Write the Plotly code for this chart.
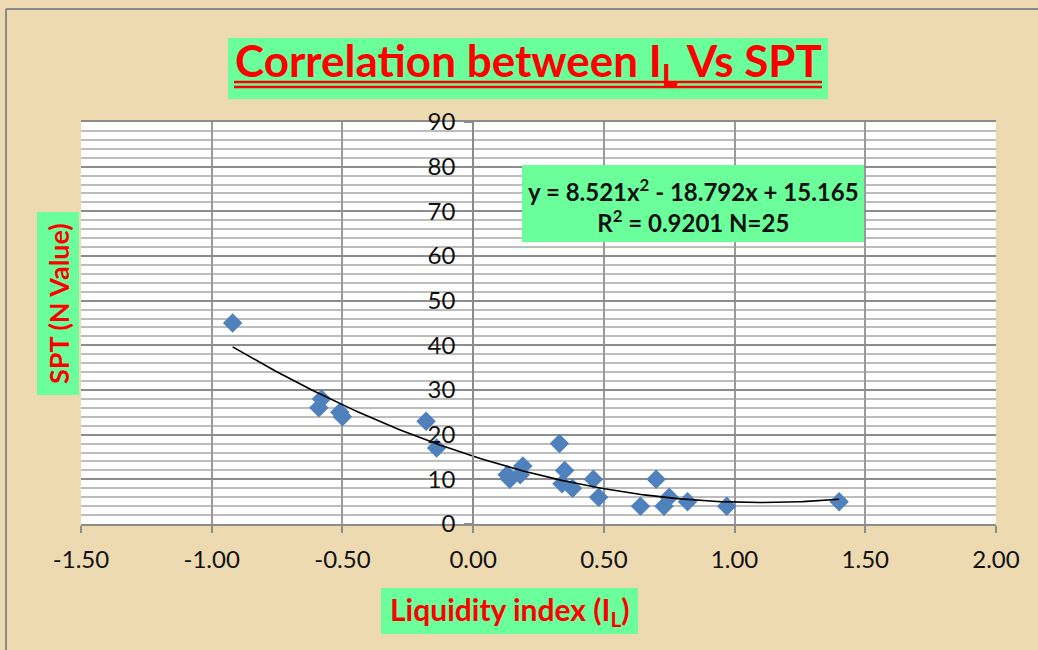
import plotly.graph_objects as go
import numpy as np

# ---- data ----
liquidity_index = [-0.92, -0.58, -0.59, -0.51, -0.50, -0.18, -0.14,
                   0.13, 0.14, 0.18, 0.19, 0.33, 0.35, 0.34, 0.38,
                   0.46, 0.48, 0.64, 0.70, 0.73, 0.75, 0.82, 0.97, 1.40]
spt_n = [45, 28, 26, 25, 24, 23, 17,
         11, 10, 11, 13, 18, 12, 9, 8,
         10, 6, 4, 10, 4, 6, 5, 4, 5]

# trendline coefficients (from the chart's equation)
coef_a, coef_b, coef_c = 8.521, -18.792, 15.165

x_ticks = [-1.5, -1.0, -0.5, 0.0, 0.5, 1.0, 1.5, 2.0]
x_tick_labels = ["-1.50", "-1.00", "-0.50", "0.00", "0.50", "1.00", "1.50", "2.00"]
y_ticks = [0, 10, 20, 30, 40, 50, 60, 70, 80, 90]

title_text = "Correlation between I<sub>L</sub> Vs SPT"
eq_text = "y = 8.521x<sup>2</sup> - 18.792x + 15.165<br>R<sup>2</sup> = 0.9201 N=25"
x_title = "Liquidity index (I<sub>L</sub>)"
y_title = "SPT (N Value)"

# ---- figure ----
W, H = 1038, 650
ml, mr, mt, mb = 81, 42, 122, 126

tx = np.linspace(min(liquidity_index), max(liquidity_index), 200)
ty = coef_a * tx**2 + coef_b * tx + coef_c

fig = go.Figure()
fig.add_trace(go.Scatter(x=liquidity_index, y=spt_n, mode="markers",
                         marker=dict(symbol="diamond", size=15, color="#4F81BD",
                                     line=dict(width=0)),
                         showlegend=False, hoverinfo="x+y"))
fig.add_trace(go.Scatter(x=tx, y=ty, mode="lines",
                         line=dict(color="black", width=1.6),
                         showlegend=False, hoverinfo="skip"))

xmin, xmax = -1.5, 2.0
y_pos = (0 - xmin) / (xmax - xmin)

fig.update_layout(
    width=W, height=H,
    margin=dict(l=ml, r=mr, t=mt, b=mb),
    paper_bgcolor="#EDDAB0",
    plot_bgcolor="white",
    font=dict(family="Lato, Open Sans, sans-serif", color="#222"),
    xaxis=dict(range=[xmin, xmax], tickvals=x_ticks, ticktext=x_tick_labels,
               showgrid=True, gridcolor="#9A9A9A", gridwidth=2,
               zeroline=False, showline=True, linecolor="#8C8C8C", linewidth=2,
               mirror=True, ticks="outside", ticklen=7, tickcolor="#8C8C8C",
               tickwidth=2, ticklabelstandoff=6,
               tickfont=dict(size=24, family="Lato, sans-serif", color="#111")),
    yaxis=dict(range=[0, 90], tickvals=y_ticks,
               anchor="free", position=y_pos,
               showgrid=True, gridcolor="#8C8C8C", gridwidth=2,
               minor=dict(dtick=2, showgrid=True, gridcolor="#BDBDBD", gridwidth=2),
               zeroline=False, showline=True, linecolor="#8C8C8C", linewidth=2,
               ticks="outside", ticklen=8, tickcolor="#8C8C8C", tickwidth=2,
               ticklabelstandoff=4,
               tickfont=dict(size=24, family="Lato, sans-serif", color="#111")),
)

shapes = []


def px_to_paper(px, py):
    return (px - ml) / (W - ml - mr), (H - mb - py) / (H - mt - mb)


# outer chart border (top and left only, grey)
a, b = px_to_paper(6, 9)
c, d = px_to_paper(1038, 650)
shapes.append(dict(type="line", xref="paper", yref="paper", x0=a, x1=c, y0=b, y1=b,
                   line=dict(color="#8A8A8A", width=2)))
shapes.append(dict(type="line", xref="paper", yref="paper", x0=a, x1=a, y0=b, y1=d,
                   line=dict(color="#8A8A8A", width=2)))


def add_box(x0, y0, x1, y1, color="#6BFF9B"):
    a, b = px_to_paper(x0, y1)
    c, d = px_to_paper(x1, y0)
    shapes.append(dict(type="rect", xref="paper", yref="paper",
                       x0=a, y0=b, x1=c, y1=d, fillcolor=color,
                       line=dict(width=0), layer="above"))


# title box
add_box(228, 38, 828, 99)
# equation box
add_box(522, 165, 864, 242)
# y-title box
add_box(37, 212, 79, 395)
# x-title box
add_box(381, 588, 638, 634)

# double underline under title
for uy in (82, 87):
    a, b = px_to_paper(234, uy)
    c, d = px_to_paper(822, uy)
    shapes.append(dict(type="line", xref="paper", yref="paper",
                       x0=a, y0=b, x1=c, y1=d,
                       line=dict(color="#FF0000", width=2.5), layer="above"))

fig.update_layout(shapes=shapes)

annos = []
cx, cy = px_to_paper(528, 63)
annos.append(dict(text="<b>" + title_text + "</b>", xref="paper", yref="paper",
                  x=cx, y=cy, showarrow=False, xanchor="center", yanchor="middle",
                  font=dict(size=44, color="#FF0000", family="Lato, sans-serif")))
cx, cy = px_to_paper(693, 205)
annos.append(dict(text="<b>" + eq_text + "</b>", xref="paper", yref="paper",
                  x=cx, y=cy, showarrow=False, xanchor="center", yanchor="middle",
                  align="center",
                  font=dict(size=24, color="#111", family="Lato, sans-serif")))
cx, cy = px_to_paper(58, 304)
annos.append(dict(text="<b>" + y_title + "</b>", xref="paper", yref="paper",
                  x=cx, y=cy, showarrow=False, xanchor="center", yanchor="middle",
                  textangle=-90,
                  font=dict(size=27, color="#FF0000", family="Lato, sans-serif")))
cx, cy = px_to_paper(510, 611)
annos.append(dict(text="<b>" + x_title + "</b>", xref="paper", yref="paper",
                  x=cx, y=cy, showarrow=False, xanchor="center", yanchor="middle",
                  font=dict(size=30, color="#FF0000", family="Lato, sans-serif")))
fig.update_layout(annotations=annos)

fig.write_html("out.html", config={"displayModeBar": False},
               post_script="document.body.style.margin='0px';")
